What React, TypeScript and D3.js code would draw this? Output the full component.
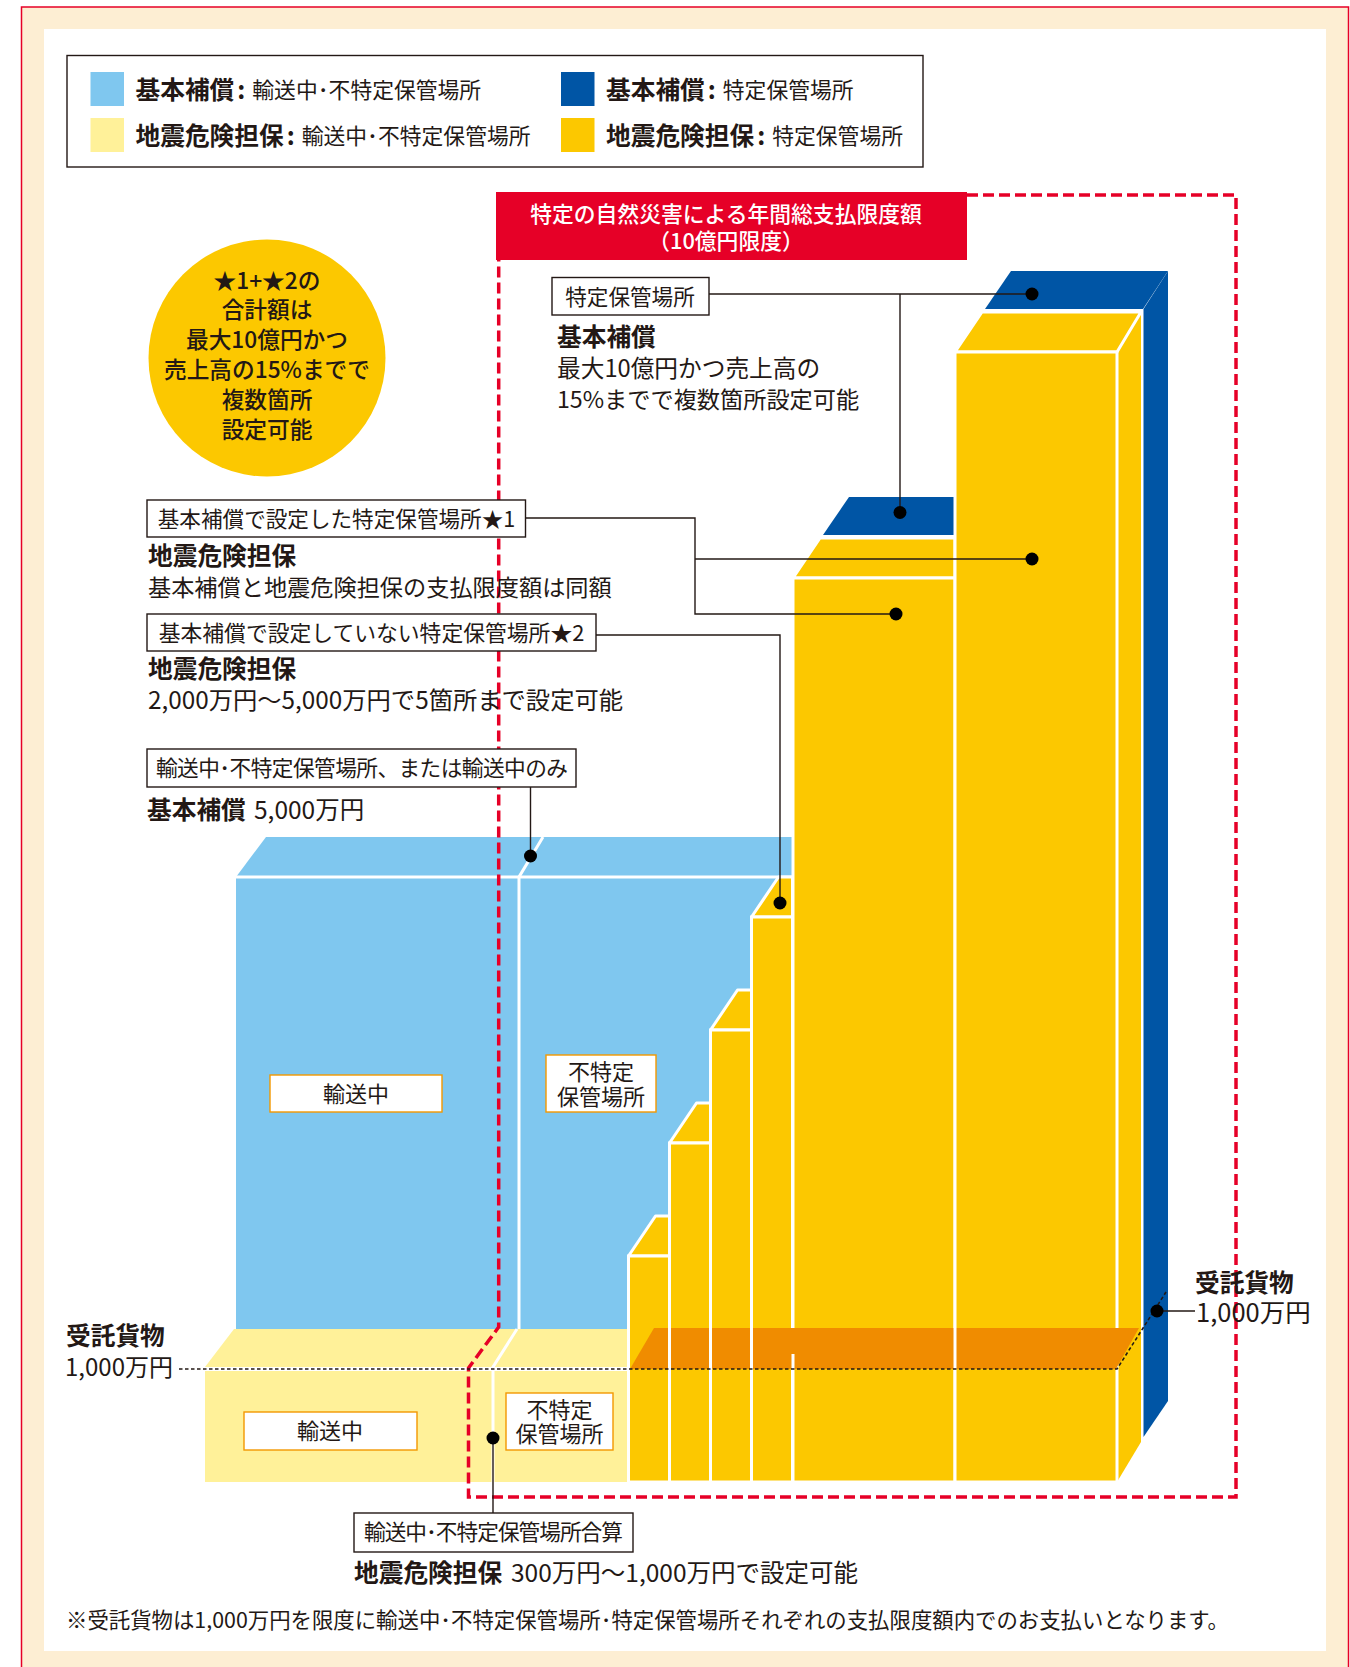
import * as d3 from "d3";
import { useEffect, useRef } from "react";

/* -----------------------------
   Data
----------------------------- */

const stepBars = ["step1", "step2", "step3", "step4"];
const stepLimits = [2000, 3000, 4000, 5000]; // 万円
const bigBars = ["big1", "big2"];
const bigLimits = [8000, 10000]; // 万円
const transitLimit = 5000;
const cargoLimit = 1000;

const legendTitles = ["基本補償", "地震危険担保", "基本補償", "地震危険担保"];
const legendNotes = [
  "輸送中･不特定保管場所",
  "輸送中･不特定保管場所",
  "特定保管場所",
  "特定保管場所",
];
const headerLines = ["特定の自然災害による年間総支払限度額", "（10億円限度）"];
const circleLines = ["★1+★2の", "合計額は", "最大10億円かつ", "売上高の15%までで", "複数箇所", "設定可能"];

const colors = {
  cream: "#FDEED3",
  red: "#E60027",
  sky: "#7FC7EF",
  navy: "#0055A5",
  pale: "#FFF199",
  gold: "#FCC800",
  orange: "#F08C00",
  ink: "#231815",
  tag: "#F39800",
};

const FONT = "'Noto Sans CJK JP', 'Noto Sans', sans-serif";

export default function App() {
  const ref = useRef<SVGSVGElement>(null);

  useEffect(() => {
    if (!ref.current) return;
    const svg = d3.select(ref.current);
    svg.selectAll("*").remove();
    svg.style("font-family", FONT);

    const y = d3.scaleLinear().domain([0, 10000]).range([1482, 352]);
    const stepX = d3.scaleBand<string>().domain(stepBars).range([628.5, 792.5]);
    const bigX = d3.scaleBand<string>().domain(bigBars).range([793, 1117]);
    const dx = 27;
    const dy = 40;
    const line = (pts: [number, number][]) => d3.line()(pts) + "Z";

    const poly = (pts: [number, number][], fill: string, stroke = "none") =>
      svg
        .append("path")
        .attr("d", line(pts))
        .attr("fill", fill)
        .attr("stroke", stroke)
        .attr("stroke-width", stroke === "none" ? 0 : 3)
        .attr("stroke-linejoin", "round");

    const label = (
      x: number,
      yy: number,
      text: string,
      size = 23,
      weight = 400,
      anchor = "start",
      fill = colors.ink
    ) =>
      svg
        .append("text")
        .attr("x", x)
        .attr("y", yy - 2)
        .attr("dominant-baseline", "central")
        .attr("text-anchor", anchor)
        .attr("font-size", size)
        .attr("font-weight", weight)
        .attr("fill", fill)
        .text(text);

    const box = (x0: number, x1: number, y0: number, y1: number, stroke = "#231815", w = 1.4) =>
      svg
        .append("rect")
        .attr("x", x0)
        .attr("y", y0)
        .attr("width", x1 - x0)
        .attr("height", y1 - y0)
        .attr("fill", "#fff")
        .attr("stroke", stroke)
        .attr("stroke-width", w);

    const wire = (pts: [number, number][], w = 1.4) =>
      svg
        .append("path")
        .attr("d", d3.line()(pts))
        .attr("fill", "none")
        .attr("stroke", colors.ink)
        .attr("stroke-width", w);

    const dot = (x: number, yy: number) =>
      svg.append("circle").attr("cx", x).attr("cy", yy).attr("r", 6.5).attr("fill", "#000");

    // -----------------------------
    // Page
    svg
      .append("rect")
      .attr("x", 21.5)
      .attr("y", 7)
      .attr("width", 1327)
      .attr("height", 1680)
      .attr("fill", colors.cream)
      .attr("stroke", colors.red)
      .attr("stroke-width", 1.5);
    svg
      .append("rect")
      .attr("x", 44)
      .attr("y", 29)
      .attr("width", 1282)
      .attr("height", 1622)
      .attr("fill", "#fff");

    // -----------------------------
    // Legend
    box(67, 923, 55.5, 167);
    const swatchColors = [colors.sky, colors.pale, colors.navy, colors.gold];
    legendTitles.forEach((title, i) => {
      const col = i < 2 ? 0 : 1;
      const row = i % 2;
      const sx = col ? 561 : 90.5;
      const sy = row ? 118 : 72;
      svg.append("rect").attr("x", sx).attr("y", sy).attr("width", 33.5).attr("height", 34).attr("fill", swatchColors[i]);
      const tx = sx + 45;
      const t = label(tx, sy + 18, "", 24.7, 700);
      t.append("tspan").text(title);
      t.append("tspan").attr("dx", 3).text(":");
      t.append("tspan")
        .attr("x", tx + title.length * 24.7 + 18)
        .attr("font-size", 21.8)
        .attr("font-weight", 400)
        .text(legendNotes[i]);
    });

    // -----------------------------
    // Blue block: transit / unspecified storage (sits one depth behind the gold)
    const blueTop = y(transitLimit) - dy;
    const blueBottom = y(cargoLimit) - dy;
    poly([[236, blueTop], [266, blueTop - dy], [792, blueTop - dy], [792, blueTop]], colors.sky);
    svg.append("rect").attr("x", 236).attr("y", blueTop).attr("width", 556).attr("height", blueBottom - blueTop).attr("fill", colors.sky);
    wire([[236, blueTop], [792, blueTop]], 3).attr("stroke", "#fff");
    wire([[519, blueBottom], [519, blueTop], [543, blueTop - dy]], 3).attr("stroke", "#fff");

    // Pale block: cargo
    const paleTop = y(cargoLimit);
    poly([[205, paleTop - 2], [234, paleTop - dy], [628, paleTop - dy], [628, paleTop - 2]], colors.pale);
    svg.append("rect").attr("x", 205).attr("y", paleTop + 2).attr("width", 423).attr("height", y(0) - paleTop - 2).attr("fill", colors.pale);
    wire([[493, y(0)], [493, paleTop - 2], [517, paleTop - dy]], 3).attr("stroke", "#fff");

    // -----------------------------
    // Navy layer behind the two big bars
    const big2 = bigX("big2")!;
    const bigW = bigX.bandwidth();
    const shiftX = dx + 2;
    const shiftY = dy + 3;
    bigBars.forEach((k, i) => {
      const x0 = bigX(k)! + 1 + shiftX;
      const x1 = k === "big2" ? big2 + bigW - 1 + dx : bigX(k)! + bigW - 1;
      const yt = y(bigLimits[i]) - shiftY;
      const slant = k === "big2" ? 25 : 0;
      poly([[x0, yt], [x0 + 26, yt - 38], [x1 + slant, yt - 38], [x1, yt]], colors.navy);
    });
    poly(
      [[1143.5, y(10000) - shiftY], [1168, y(10000) - shiftY - 38], [1168, y(0) - 81], [1143.5, y(0) - 45]],
      colors.navy
    );

    // Gold side face and tops
    const drawBar = (x0: number, x1: number, value: number, last: boolean) => {
      const yt = y(value);
      const slant = last ? dx - 3 : 0;
      poly([[x0, yt], [x0 + dx, yt - dy], [x1 + slant, yt - dy], [x1, yt]], colors.gold, "#fff");
      svg
        .append("rect")
        .attr("x", x0)
        .attr("y", yt)
        .attr("width", x1 - x0)
        .attr("height", y(0) - yt)
        .attr("fill", colors.gold)
        .attr("stroke", "#fff")
        .attr("stroke-width", 3);
    };

    poly(
      [[1117, y(10000) - 2], [1141, y(10000) - dy], [1141, y(0) - dy], [1117, y(0)]],
      colors.gold
    );
    stepBars.forEach((k, i) => {
      drawBar(stepX(k)!, stepX(k)! + stepX.bandwidth(), stepLimits[i], false);
    });
    bigBars.forEach((k, i) => {
      drawBar(bigX(k)!, bigX(k)! + bigW, bigLimits[i], k === "big2");
    });
    // Orange overlap band
    poly([[630, paleTop], [654, paleTop - dy - 1], [1139, paleTop - dy - 1], [1116, paleTop]], colors.orange);
    [stepX("step2")!, stepX("step3")!, stepX("step4")!, big2].forEach((x) => {
      wire([[x, paleTop - dy - 1], [x, paleTop]], 3).attr("stroke", "#fff");
    });
    wire([[bigX("big1")!, paleTop - dy + 25], [bigX("big1")!, paleTop]], 3).attr("stroke", "#fff");

    // -----------------------------
    // Red dashed outline
    svg
      .append("path")
      .attr(
        "d",
        d3.line()([
          [967, 195],
          [1236, 195],
          [1236, 1497],
          [468.5, 1497],
          [468.5, 1368],
          [498.7, 1327],
          [498.7, 260],
        ])
      )
      .attr("fill", "none")
      .attr("stroke", colors.red)
      .attr("stroke-width", 3.5)
      .attr("stroke-dasharray", "11 5");

    // Header
    svg.append("rect").attr("x", 496).attr("y", 192).attr("width", 471).attr("height", 68).attr("fill", colors.red);
    headerLines.forEach((t, i) => label(726, 214 + i * 27, t, 21.8, 500, "middle", "#fff"));

    // Circle note
    svg.append("circle").attr("cx", 267).attr("cy", 358).attr("r", 118.5).attr("fill", colors.gold);
    circleLines.forEach((t, i) => label(267, 281 + i * 29.8, t, 22.7, 500, "middle"));

    // -----------------------------
    // Cargo dotted line
    svg
      .append("path")
      .attr("d", d3.line()([[179, paleTop], [1117, paleTop], [1166, 1292]]))
      .attr("fill", "none")
      .attr("stroke", colors.ink)
      .attr("stroke-width", 1.6)
      .attr("stroke-dasharray", "3.5 2.5");
    label(66, 1336, "受託貨物", 24.7, 700);
    label(65, 1367, "1,000万円", 24);
    wire([[1157, 1311], [1195, 1311]], 1.6);
    dot(1157, 1311);
    label(1195, 1283, "受託貨物", 24.7, 700);
    label(1196, 1312, "1,000万円", 25.5);

    // -----------------------------
    // Callouts
    wire([[709, 294], [1032, 294]], 1.6);
    wire([[900, 294], [900, 512.5]]);
    dot(1032, 294);
    dot(900, 512.5);
    box(552, 709, 277.5, 315);
    label(630, 297, "特定保管場所", 21.6, 400, "middle");
    label(557, 337, "基本補償", 24.7, 700);
    label(557, 369, "最大10億円かつ売上高の", 23.7);
    label(557, 400, "15%までで複数箇所設定可能", 23.2);

    wire([[525, 518], [695, 518], [695, 614], [896, 614]]);
    wire([[695, 559], [1032, 559]], 1.6);
    dot(896, 614);
    dot(1032, 559);
    box(147, 525.5, 500, 537);
    label(336.5, 519, "基本補償で設定した特定保管場所★1", 21.6, 400, "middle");
    label(148, 556, "地震危険担保", 24.7, 700);
    label(148, 588, "基本補償と地震危険担保の支払限度額は同額", 23.2);

    wire([[596, 635], [780, 635], [780, 903]]);
    dot(780, 903);
    box(147, 596, 614, 651);
    label(371.5, 633, "基本補償で設定していない特定保管場所★2", 21.8, 400, "middle");
    label(148, 669, "地震危険担保", 24.7, 700);
    label(148, 700, "2,000万円〜5,000万円で5箇所まで設定可能", 24.3);

    wire([[530.5, 787], [530.5, 856]]);
    dot(530.5, 856);
    box(147, 576, 749, 787);
    label(362, 768, "輸送中･不特定保管場所、または輸送中のみ", 21.7, 400, "middle")
      .attr("textLength", 412)
      .attr("lengthAdjust", "spacing");
    const t5000 = label(147, 810, "", 24.7, 700);
    t5000.append("tspan").text("基本補償");
    t5000.append("tspan").attr("x", 254).attr("font-weight", 400).attr("font-size", 24.5).text("5,000万円");

    // Tags inside the blocks
    const tagW = 1.4;
    box(270, 442, 1075, 1112, colors.tag, tagW);
    label(356, 1094, "輸送中", 22, 400, "middle");
    box(546, 656, 1055, 1112, colors.tag, tagW);
    label(601, 1072, "不特定", 22, 400, "middle");
    label(601, 1097, "保管場所", 22, 400, "middle");
    box(244, 417, 1412, 1450, colors.tag, tagW);
    label(330, 1431, "輸送中", 22, 400, "middle");
    box(506, 613, 1393, 1450, colors.tag, tagW);
    label(559.5, 1410, "不特定", 22, 400, "middle");
    label(559.5, 1434, "保管場所", 22, 400, "middle");

    wire([[493, 1438], [493, 1513]]);
    dot(493, 1438);
    box(354, 633, 1513, 1552);
    label(493.5, 1532, "輸送中･不特定保管場所合算", 21.7, 400, "middle")
      .attr("textLength", 259)
      .attr("lengthAdjust", "spacing");
    const tQuake = label(354, 1573, "", 24.7, 700);
    tQuake.append("tspan").text("地震危険担保");
    tQuake.append("tspan").attr("x", 511).attr("font-weight", 400).attr("font-size", 24.5).text("300万円〜1,000万円で設定可能");

    label(66, 1620, "※受託貨物は1,000万円を限度に輸送中･不特定保管場所･特定保管場所それぞれの支払限度額内でのお支払いとなります。", 21.4);
  }, []);

  return (
    <svg
      ref={ref}
      width={1350}
      height={1667}
      style={{ position: "absolute", left: 0, top: 0, display: "block" }}
    />
  );
}
